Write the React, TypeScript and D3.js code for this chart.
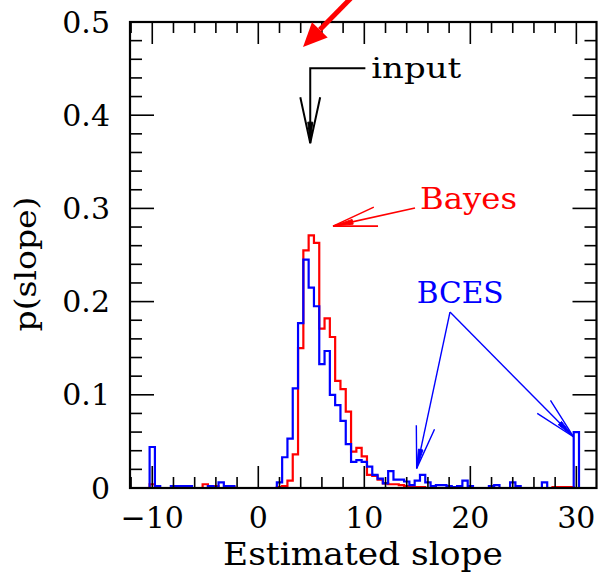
import React from 'react';
import * as d3 from 'd3';

// Histogram bins: first bin starts at -10.25, each bin 0.5 wide (centres -10 ... 30)
const BIN_START = -10.25;
const BIN_WIDTH = 0.5;

// p(slope) for the Bayes estimate (red), one value per bin
const bayesValues = [
  0.004, 0, 0, 0, 0, 0, 0, 0, 0, 0,
  0.004, 0.002, 0.002, 0, 0, 0.001, 0, 0, 0, 0,
  0, 0, 0, 0, 0.001, 0.002, 0.008, 0.036, 0.150, 0.255,
  0.271, 0.263, 0.171, 0.182, 0.162, 0.115, 0.106, 0.082, 0.039, 0.043,
  0.034, 0.014, 0.013, 0.009, 0.005, 0.004, 0.004, 0.003, 0.002, 0.001,
  0.001, 0.001, 0, 0, 0, 0, 0, 0, 0, 0,
  0, 0, 0, 0, 0, 0, 0, 0, 0, 0,
  0, 0, 0, 0, 0, 0, 0.001, 0.001, 0.001, 0.001,
  0,
];

// p(slope) for the BCES estimate (blue), one value per bin
const bcesValues = [
  0.044, 0.002, 0, 0, 0.002, 0.002, 0.002, 0.002, 0, 0,
  0, 0.002, 0.001, 0.006, 0.002, 0.002, 0, 0, 0, 0,
  0, 0, 0, 0, 0.006, 0.033, 0.053, 0.107, 0.177, 0.245,
  0.215, 0.195, 0.133, 0.147, 0.100, 0.089, 0.072, 0.047, 0.028, 0.030,
  0.028, 0.023, 0.014, 0.010, 0.005, 0.018, 0.009, 0.009, 0.007, 0.003,
  0.008, 0.014, 0.006, 0.002, 0.003, 0.003, 0.002, 0.001, 0.002, 0.008,
  0.002, 0, 0, 0, 0.002, 0.003, 0, 0, 0.006, 0.002,
  0, 0, 0, 0, 0.006, 0, 0, 0, 0, 0,
  0.060,
];

const xTickLabels = [-10, 0, 10, 20, 30];
const yTickLabels = [0, 0.1, 0.2, 0.3, 0.4, 0.5];
const xMinorTicks = d3.range(-12, 31, 2);
const yMinorTicks = d3.range(0, 0.5001, 0.02);

const W = 598;
const H = 576;
const FONT = '"DejaVu Serif", serif';

const x = d3.scaleLinear().domain([-12.1, 31.9]).range([130, 596.5]);
const y = d3.scaleLinear().domain([0, 0.5]).range([488, 22]);

function histPath(vals: number[]): string {
  const pts: [number, number][] = [[BIN_START, 0]];
  vals.forEach((v, i) => {
    const a = BIN_START + i * BIN_WIDTH;
    pts.push([a, v]);
    pts.push([a + BIN_WIDTH, v]);
  });
  pts.push([BIN_START + vals.length * BIN_WIDTH, 0]);
  return d3.line<[number, number]>().x(d => x(d[0])).y(d => y(d[1]))(pts) || '';
}

// open arrow head (SM style) : two barbs + small filled core near the tip
function arrowHead(tx: number, ty: number, fx: number, fy: number, len: number, spreadDeg: number) {
  const ang = Math.atan2(fy - ty, fx - tx);
  const s = (spreadDeg * Math.PI) / 180;
  const b1 = [tx + len * Math.cos(ang + s), ty + len * Math.sin(ang + s)];
  const b2 = [tx + len * Math.cos(ang - s), ty + len * Math.sin(ang - s)];
  const l2 = len * 0.45;
  const s2 = s * 0.55;
  const c1 = [tx + l2 * Math.cos(ang + s2), ty + l2 * Math.sin(ang + s2)];
  const c2 = [tx + l2 * Math.cos(ang - s2), ty + l2 * Math.sin(ang - s2)];
  return {
    open: `M${b1[0]},${b1[1]}L${tx},${ty}L${b2[0]},${b2[1]}`,
    core: `M${c1[0]},${c1[1]}L${tx},${ty}L${c2[0]},${c2[1]}Z`,
  };
}

// annotation anchors in data coordinates
const inputArrow = { x: 4.9, tipY: 0.37, elbowY: 0.4505, endX: 10.1 };
const inputText = { x: 10.65, y: 0.44 };
const bayesArrow = { tipX: 7.05, tipY: 0.281, fromX: 14.78, fromY: 0.3004 };
const bayesText = { x: 15.25, y: 0.2994 };
const bcesApex = { x: 18.08, y: 0.1888 };
const bcesTips = [
  { x: 14.94, y: 0.0211 },
  { x: 29.72, y: 0.055 },
];
const bcesText = { x: 14.94, y: 0.1985 };
const redArrow = { fromX: 8.84, fromY: 0.5268, tipX: 4.22, tipY: 0.4732 };

export default function App() {
  const x0 = x.range()[0];
  const x1 = x.range()[1];
  const y0 = y.range()[0];
  const y1 = y.range()[1];

  // input arrow
  const iax = x(inputArrow.x);
  const iaTip = y(inputArrow.tipY);
  const iaElbow = y(inputArrow.elbowY);
  const iaHead = arrowHead(iax, iaTip, iax, iaElbow, 47, 12.2);

  // Bayes arrow
  const bt = [x(bayesArrow.tipX), y(bayesArrow.tipY)];
  const bf = [x(bayesArrow.fromX), y(bayesArrow.fromY)];
  const bHead = arrowHead(bt[0], bt[1], bf[0], bf[1], 45, 12.5);

  // BCES arrows
  const ap = [x(bcesApex.x), y(bcesApex.y)];
  const cHeads = bcesTips.map(t => {
    const tx = x(t.x);
    const ty = y(t.y);
    return { tx, ty, head: arrowHead(tx, ty, ap[0], ap[1], 43, 12.5) };
  });

  // red thick arrow
  const rf = [x(redArrow.fromX), y(redArrow.fromY)];
  const rt = [x(redArrow.tipX), y(redArrow.tipY)];
  const rdx = rt[0] - rf[0];
  const rdy = rt[1] - rf[1];
  const rl = Math.hypot(rdx, rdy);
  const ux = rdx / rl;
  const uy = rdy / rl;
  const nx = -uy;
  const ny = ux;
  const hb = [rt[0] - 24 * ux, rt[1] - 24 * uy];
  const redHead = `M${rt[0]},${rt[1]}L${hb[0] + 11 * nx},${hb[1] + 11 * ny}L${hb[0] - 11 * nx},${hb[1] - 11 * ny}Z`;

  return (
    <svg
      width={W}
      height={H}
      viewBox={`0 0 ${W} ${H}`}
      style={{ position: 'absolute', left: 0, top: 0, background: '#fff' }}
    >
      <rect x={0} y={0} width={W} height={H} fill="#fff" />

      {/* histograms */}
      <path d={histPath(bayesValues)} fill="none" stroke="#ff0000" strokeWidth={2.2} strokeLinejoin="miter" />
      <path d={histPath(bcesValues)} fill="none" stroke="#0000ff" strokeWidth={2.2} strokeLinejoin="miter" />

      {/* ticks */}
      <g stroke="#000" strokeWidth={1.6}>
        {xMinorTicks.map(t => {
          const major = Math.abs(t % 10) < 1e-9;
          const len = major ? 22 : 11;
          return (
            <g key={'xt' + t}>
              <line x1={x(t)} x2={x(t)} y1={y0} y2={y0 - len} />
              <line x1={x(t)} x2={x(t)} y1={y1} y2={y1 + len} />
            </g>
          );
        })}
        {yMinorTicks.map((t, i) => {
          const major = i % 5 === 0;
          const len = major ? 24 : 12;
          return (
            <g key={'yt' + i}>
              <line x1={x0} x2={x0 + len} y1={y(t)} y2={y(t)} />
              <line x1={x1} x2={x1 - len} y1={y(t)} y2={y(t)} />
            </g>
          );
        })}
      </g>

      {/* frame */}
      <rect x={x0} y={y1} width={x1 - x0} height={y0 - y1} fill="none" stroke="#000" strokeWidth={2.2} />

      {/* tick labels */}
      <g fontFamily={FONT} fontSize={30} fill="#000">
        {yTickLabels.map(t => (
          <text key={'yl' + t} x={110} y={y(t) + 10.5} textAnchor="end">
            {t === 0 ? '0' : t.toFixed(1)}
          </text>
        ))}
        {xTickLabels.map(t => (
          <text key={'xl' + t} x={x(t)} y={528} textAnchor="middle">
            {t < 0 ? '\u2212' + Math.abs(t) : String(t)}
          </text>
        ))}
      </g>

      {/* axis titles */}
      <text x={363} y={565} textAnchor="middle" fontFamily={FONT} fontSize={31} textLength={280} lengthAdjust="spacingAndGlyphs">
        Estimated slope
      </text>
      <text
        transform="translate(36,264) rotate(-90)"
        textAnchor="middle"
        fontFamily={FONT}
        fontSize={30}
        textLength={135}
        lengthAdjust="spacingAndGlyphs"
      >
        p(slope)
      </text>

      {/* input annotation */}
      <path
        d={`M${x(inputArrow.endX)},${iaElbow}L${iax},${iaElbow}L${iax},${iaTip}`}
        fill="none"
        stroke="#000"
        strokeWidth={2}
      />
      <path d={iaHead.open} fill="none" stroke="#000" strokeWidth={2} />
      <path d={iaHead.core} fill="#000" stroke="#000" strokeWidth={1} />
      <text x={x(inputText.x)} y={y(inputText.y)} fontFamily={FONT} fontSize={27} textLength={90} lengthAdjust="spacingAndGlyphs">
        input
      </text>

      {/* Bayes annotation */}
      <line x1={bf[0]} y1={bf[1]} x2={bt[0]} y2={bt[1]} stroke="#ff0000" strokeWidth={1.6} />
      <path d={bHead.open} fill="none" stroke="#ff0000" strokeWidth={1.6} />
      <path d={bHead.core} fill="#ff0000" stroke="#ff0000" strokeWidth={1} />
      <text x={x(bayesText.x)} y={y(bayesText.y)} fontFamily={FONT} fontSize={29} fill="#ff0000" textLength={97} lengthAdjust="spacingAndGlyphs">
        Bayes
      </text>

      {/* BCES annotation */}
      {cHeads.map((c, i) => (
        <g key={'bc' + i}>
          <line x1={ap[0]} y1={ap[1]} x2={c.tx} y2={c.ty} stroke="#0000ff" strokeWidth={1.4} />
          <path d={c.head.open} fill="none" stroke="#0000ff" strokeWidth={1.4} />
          <path d={c.head.core} fill="#0000ff" stroke="#0000ff" strokeWidth={1} />
        </g>
      ))}
      <text x={x(bcesText.x)} y={y(bcesText.y)} fontFamily={FONT} fontSize={29} fill="#0000ff" textLength={87} lengthAdjust="spacingAndGlyphs">
        BCES
      </text>

      {/* red pointer arrow */}
      <line x1={rf[0]} y1={rf[1]} x2={hb[0]} y2={hb[1]} stroke="#ff0000" strokeWidth={5} />
      <path d={redHead} fill="#ff0000" />
    </svg>
  );
}
